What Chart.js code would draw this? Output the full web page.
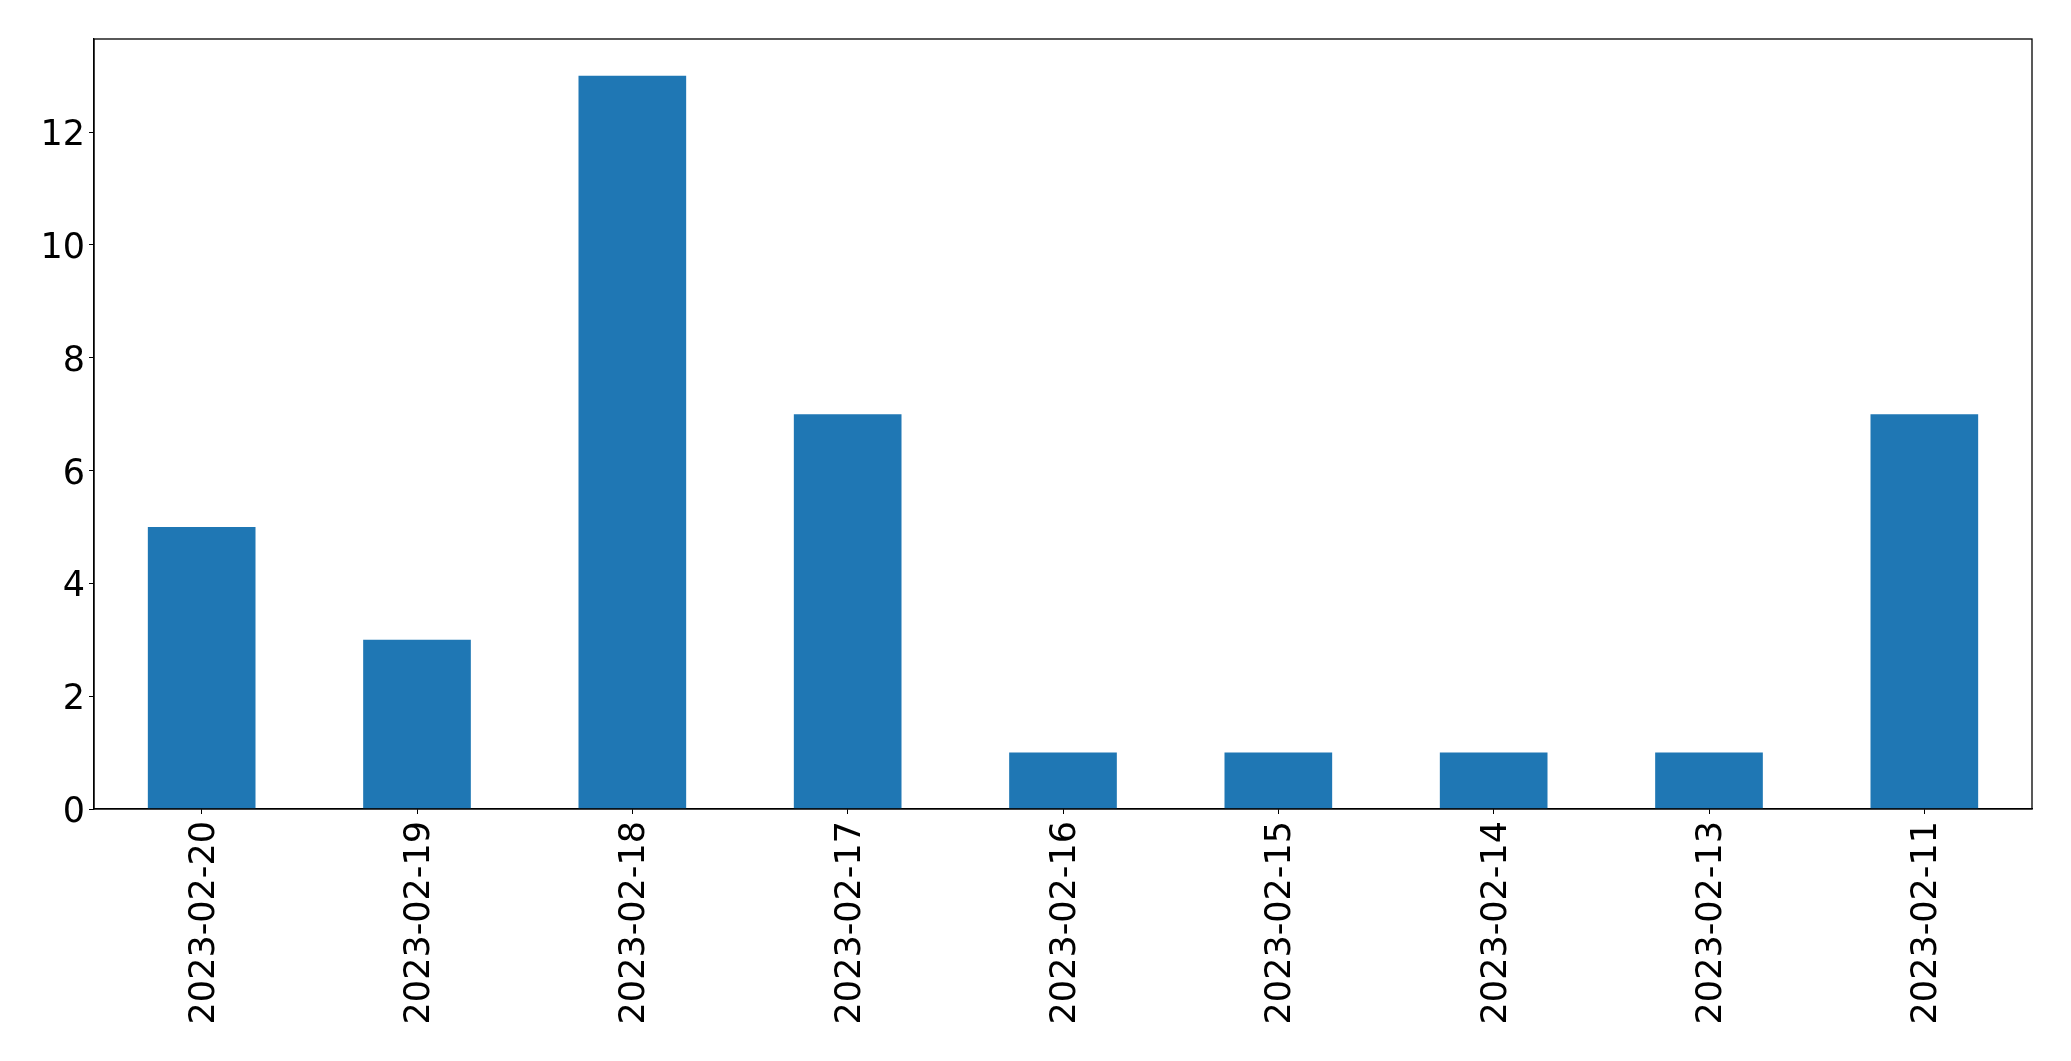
<!DOCTYPE html>
<html>
<head>
<meta charset="utf-8">
<script src="https://cdn.jsdelivr.net/npm/chart.js@4"></script>
<style>
  html, body { margin: 0; padding: 0; background: #fff; }
  #wrap { width: 2071px; height: 1061px; }
</style>
</head>
<body>
<div id="wrap"><canvas id="barChart"></canvas></div>
<script>
// counts per date
const dates = ['2023-02-20', '2023-02-19', '2023-02-18', '2023-02-17', '2023-02-16',
               '2023-02-15', '2023-02-14', '2023-02-13', '2023-02-11'];
const counts = [5, 3, 13, 7, 1, 1, 1, 1, 7];
const yTicks = [0, 2, 4, 6, 8, 10, 12];

const FONT = '35px "DejaVu Sans"';

// top/right spines + tick labels placed like matplotlib does
const frameBox = {
  id: 'frameBox',
  afterDraw(chart) {
    const { ctx, chartArea: a } = chart;
    ctx.save();
    ctx.strokeStyle = '#000';
    ctx.lineWidth = 1.3;
    ctx.strokeRect(a.left, a.top, a.right - a.left, a.bottom - a.top);

    ctx.fillStyle = '#000';
    ctx.font = FONT;
    ctx.textBaseline = 'alphabetic';

    // y labels
    const ys = chart.scales.y;
    ctx.textAlign = 'right';
    ys.ticks.forEach((t, i) => {
      const py = ys.getPixelForTick(i);
      ctx.fillText(String(t.value), a.left - 9, py + 13);
    });

    // x labels, rotated 90 degrees
    const xs = chart.scales.x;
    xs.ticks.forEach((t, i) => {
      const px = xs.getPixelForTick(i);
      ctx.save();
      ctx.translate(px + 12, a.bottom + 12);
      ctx.rotate(-Math.PI / 2);
      ctx.textAlign = 'right';
      ctx.fillText(dates[i], 0, 0);
      ctx.restore();
    });
    ctx.restore();
  }
};

const ctx = document.getElementById('barChart').getContext('2d');
new Chart(ctx, {
  type: 'bar',
  data: {
    labels: dates,
    datasets: [{
      data: counts,
      backgroundColor: '#1f77b4',
      borderWidth: 0,
      barPercentage: 0.5,
      categoryPercentage: 1.0
    }]
  },
  options: {
    responsive: true,
    maintainAspectRatio: false,
    animation: false,
    layout: { padding: { top: 39, right: 39, left: 0, bottom: 0 } },
    plugins: {
      legend: { display: false },
      tooltip: { enabled: false }
    },
    scales: {
      x: {
        afterFit(scale) { scale.height = 252; },
        grid: { offset: false, drawOnChartArea: false, drawTicks: true, tickLength: 5, color: '#000' },
        border: { color: '#000', width: 1.3 },
        ticks: {
          color: 'rgba(0,0,0,0)',
          font: { family: 'DejaVu Sans', size: 35 },
          minRotation: 90,
          maxRotation: 90,
          autoSkip: false,
          padding: 7
        }
      },
      y: {
        min: 0,
        max: 13.65,
        afterFit(scale) { scale.width = 94; },
        afterBuildTicks(scale) { scale.ticks = yTicks.map(v => ({ value: v })); },
        grid: { drawOnChartArea: false, drawTicks: true, tickLength: 5, color: '#000' },
        border: { color: '#000', width: 1.3 },
        ticks: {
          color: 'rgba(0,0,0,0)',
          font: { family: 'DejaVu Sans', size: 35 },
          padding: 7
        }
      }
    }
  },
  plugins: [frameBox]
});
</script>
</body>
</html>
